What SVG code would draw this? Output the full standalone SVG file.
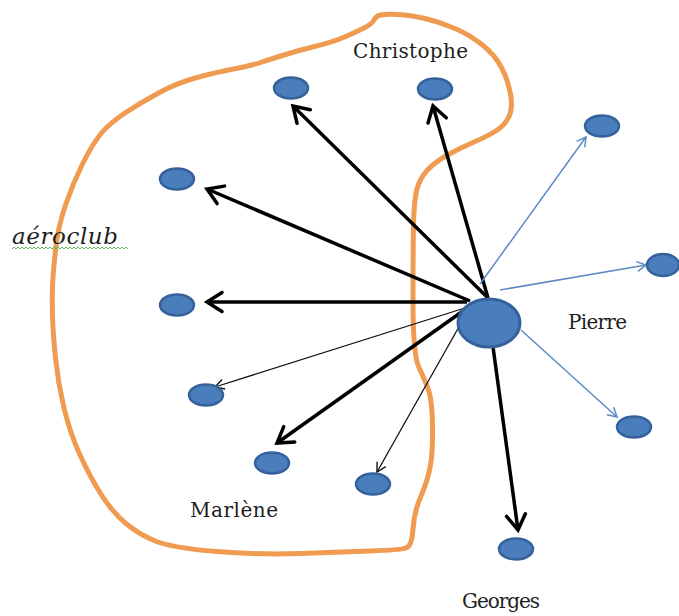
<svg xmlns="http://www.w3.org/2000/svg" width="679" height="616" viewBox="0 0 679 616">
<defs>
<style>
.node{fill:#4a7dbb;stroke:#36629c;stroke-width:2.5}
.lbl{font-family:"DejaVu Serif","Liberation Serif",serif;font-size:20px;fill:#1e1e1e}
.club{font-family:"DejaVu Serif","Liberation Serif",serif;font-size:23px;font-style:italic;fill:#1e1e1e}
.thick{stroke:#000;stroke-width:3.5;fill:none;marker-end:url(#ahThick)}
.thin{stroke:#111;stroke-width:1.3;fill:none;marker-end:url(#ahThin)}
.blue{stroke:#5b8ac6;stroke-width:1.5;fill:none;marker-end:url(#ahBlue)}
</style>
<marker id="ahThick" viewBox="-18 -13 22 26" markerWidth="22" markerHeight="26" refX="0" refY="0" orient="auto" markerUnits="userSpaceOnUse">
<path d="M-15,-9.5 L0,0 L-15,9.5" fill="none" stroke="#000" stroke-width="3.5" stroke-linecap="round"/>
</marker>
<marker id="ahThin" viewBox="-12 -8 15 16" markerWidth="15" markerHeight="16" refX="0" refY="0" orient="auto" markerUnits="userSpaceOnUse">
<path d="M-9,-5 L0,0 L-9,5" fill="none" stroke="#111" stroke-width="1.4"/>
</marker>
<marker id="ahBlue" viewBox="-12 -8 15 16" markerWidth="15" markerHeight="16" refX="0" refY="0" orient="auto" markerUnits="userSpaceOnUse">
<path d="M-9,-5 L0,0 L-9,5" fill="none" stroke="#5b8ac6" stroke-width="1.5"/>
</marker>
</defs>
<rect width="679" height="616" fill="#fff"/>
<g id="aeroclub-boundary">
<path d="M316.5,46 Q333,42 344.5,37 Q356,32 364,28 Q372,24 374,20 Q376,16 380.5,15 Q385,14 397.5,14.5 Q410,15 425,18.5 Q440,22 455,28.5 Q470,35 482.5,45 Q495,55 501.5,67.5 Q508,80 510.5,94 Q513,108 509,116.5 Q505,125 496.5,130.5 Q488,136 474,142 Q460,148 447.5,155 Q435,162 427.5,170 Q420,178 417,189 Q414,200 413.5,225 Q413,250 413,302.5 Q413,355 419,367.5 Q425,380 428.5,390 Q432,400 432.5,425 Q433,450 430.5,465 Q428,480 421,496 Q414,512 413,529 Q412,546 406,548 Q400,550 370,551 Q340,552 300,553.5 Q260,555 216.5,551.5 Q173,548 156.5,541.5 Q140,535 126.5,524 Q113,513 101.5,495 Q90,477 80,455 Q70,433 64,408 Q58,383 55.5,358 Q53,333 52.5,316.5 Q52,300 52.5,286.5 Q53,273 55.5,250 Q58,227 65.5,205 Q73,183 83,163 Q93,143 101.5,133 Q110,123 125,113 Q140,103 158.5,93 Q177,83 197,77.5 Q217,72 233.5,69 Q250,66 259,63 Q268,60 284,55 Q300,50 316.5,46 Z" fill="none" stroke="#ef9b52" stroke-width="5" stroke-linejoin="round"/>
<text class="club" x="12" y="244" textLength="106" lengthAdjust="spacing">aéroclub</text>
<path d="M12,249 l2,-2 2,2 2,-2 2,2 2,-2 2,2 2,-2 2,2 2,-2 2,2 2,-2 2,2 2,-2 2,2 2,-2 2,2 2,-2 2,2 2,-2 2,2 2,-2 2,2 2,-2 2,2 2,-2 2,2 2,-2 2,2 2,-2 2,2 2,-2 2,2 2,-2 2,2 2,-2 2,2 2,-2 2,2 2,-2 2,2 2,-2 2,2 2,-2 2,2 2,-2 2,2 2,-2 2,2 2,-2 2,2 2,-2 2,2 2,-2 2,2 2,-2 2,2 2,-2 2,2" fill="none" stroke="#5cb85c" stroke-width="1"/>
</g>
<g id="connectors">
<line class="thick" x1="488" y1="298" x2="293" y2="106"/>
<line class="thick" x1="488" y1="298" x2="433" y2="106"/>
<line class="thick" x1="470" y1="301" x2="207" y2="189"/>
<line class="thick" x1="467" y1="302" x2="207" y2="302"/>
<line class="thick" x1="470" y1="306" x2="277" y2="443"/>
<line class="thick" x1="493" y1="347" x2="518" y2="530"/>
<line class="thin" x1="468" y1="307" x2="215" y2="387"/>
<line class="thin" x1="460" y1="325" x2="377" y2="472"/>
<line class="blue" x1="480" y1="284" x2="586" y2="137"/>
<line class="blue" x1="500" y1="290" x2="646" y2="265"/>
<line class="blue" x1="521" y1="330" x2="617" y2="417"/>
</g>
<g id="pierre"><ellipse class="node" cx="489" cy="323" rx="31" ry="24" style="stroke-width:3"/><text class="lbl" x="568" y="329" textLength="59" lengthAdjust="spacing">Pierre</text></g>
<g id="n1"><ellipse class="node" cx="291" cy="88" rx="17" ry="10.5"/></g>
<g id="christophe"><ellipse class="node" cx="435" cy="89" rx="17" ry="10.5"/><text class="lbl" x="353" y="58" textLength="115" lengthAdjust="spacing">Christophe</text></g>
<g id="n3"><ellipse class="node" cx="602" cy="126" rx="17" ry="10.5"/></g>
<g id="n4"><ellipse class="node" cx="663" cy="265" rx="16" ry="11"/></g>
<g id="n5"><ellipse class="node" cx="177" cy="179" rx="17" ry="10.5"/></g>
<g id="n6"><ellipse class="node" cx="177" cy="305" rx="17" ry="10.5"/></g>
<g id="n7"><ellipse class="node" cx="206" cy="395" rx="17" ry="10.5"/></g>
<g id="marlene"><ellipse class="node" cx="272" cy="463" rx="17" ry="10.5"/><text class="lbl" x="190" y="517" textLength="88" lengthAdjust="spacing">Marlène</text></g>
<g id="n9"><ellipse class="node" cx="373" cy="484" rx="17" ry="10.5"/></g>
<g id="georges"><ellipse class="node" cx="516" cy="549" rx="17" ry="10.5"/><text class="lbl" x="462" y="608" textLength="78" lengthAdjust="spacing">Georges</text></g>
<g id="n11"><ellipse class="node" cx="634" cy="427" rx="17" ry="10.5"/></g>
</svg>
